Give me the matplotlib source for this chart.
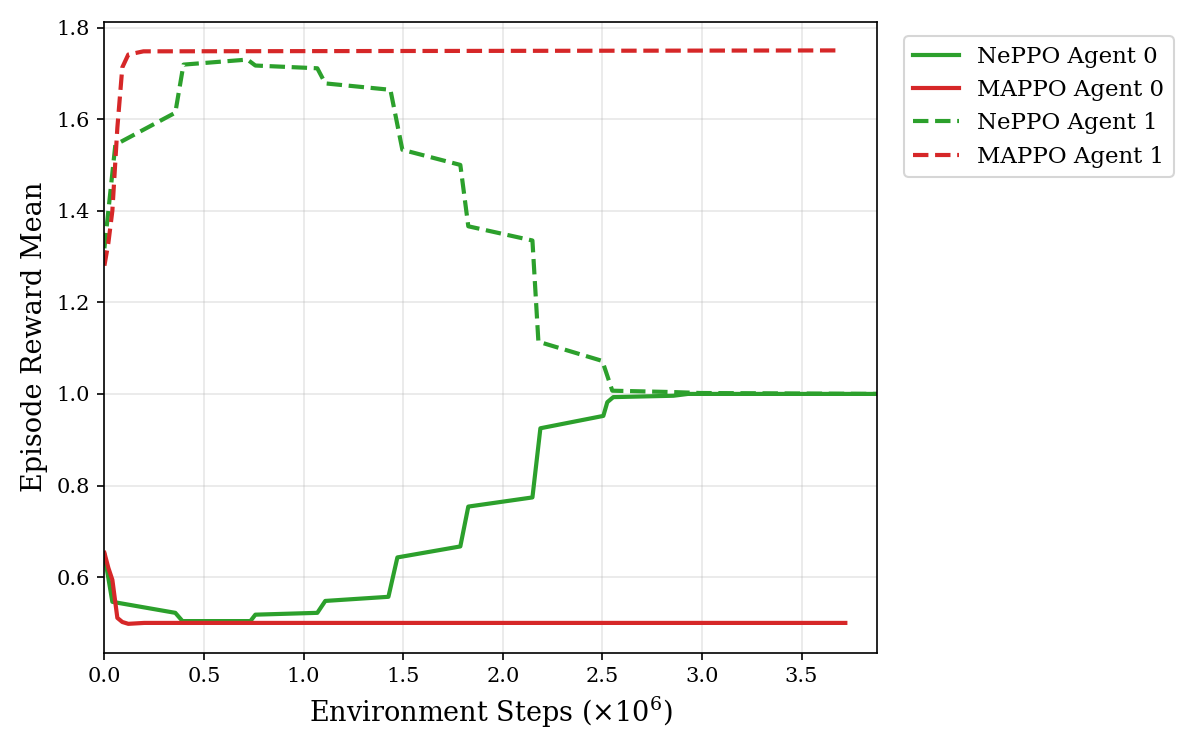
import matplotlib
matplotlib.use("Agg")
import matplotlib.pyplot as plt
import numpy as np

plt.rcParams['font.family'] = 'DejaVu Serif'
plt.rcParams['mathtext.fontset'] = 'dejavuserif'

# environment steps (x1e6) and smoothed episode reward means
neppo0_x = [0.0, 0.04, 0.356, 0.392, 0.733, 0.758, 1.069, 1.109, 1.426, 1.471,
            1.787, 1.827, 2.149, 2.189, 2.505, 2.525, 2.555, 2.857, 2.93, 3.88]
neppo0_y = [0.649, 0.546, 0.522, 0.504, 0.504, 0.518, 0.522, 0.548, 0.557, 0.643,
            0.667, 0.754, 0.774, 0.925, 0.952, 0.982, 0.993, 0.996, 1.0, 1.0]

mappo0_x = [0.0, 0.02, 0.04, 0.065, 0.09, 0.12, 0.2, 3.72]
mappo0_y = [0.653, 0.62, 0.594, 0.511, 0.502, 0.498, 0.5, 0.5]

neppo1_x = [0.0, 0.055, 0.356, 0.397, 0.718, 0.758, 1.069, 1.109, 1.436, 1.496,
            1.787, 1.827, 2.149, 2.179, 2.5, 2.55, 2.857, 2.99, 3.88]
neppo1_y = [1.318, 1.544, 1.614, 1.719, 1.730, 1.717, 1.711, 1.678, 1.664, 1.533,
            1.5, 1.366, 1.335, 1.114, 1.072, 1.007, 1.004, 1.002, 1.0]

mappo1_x = [0.0, 0.02, 0.04, 0.065, 0.09, 0.12, 0.196, 3.70]
mappo1_y = [1.28, 1.33, 1.40, 1.581, 1.713, 1.741, 1.748, 1.75]

green = '#2ca02c'
red = '#d62728'

fig, ax = plt.subplots(figsize=(8, 5), dpi=150)

ax.plot(neppo0_x, neppo0_y, color=green, lw=2, label='NePPO Agent 0')
ax.plot(mappo0_x, mappo0_y, color=red, lw=2, label='MAPPO Agent 0')
ax.plot(neppo1_x, neppo1_y, color=green, lw=2, ls='--', label='NePPO Agent 1')
ax.plot(mappo1_x, mappo1_y, color=red, lw=2, ls='--', label='MAPPO Agent 1')

ax.set_xlim(0, max(neppo0_x))
ax.set_xticks(np.arange(0, 4.0, 0.5))
ax.tick_params(labelsize=10)

ax.grid(True, alpha=0.3)
ax.set_xlabel(r'Environment Steps ($\times 10^6$)', fontsize=13)
ax.set_ylabel('Episode Reward Mean', fontsize=13)

ax.legend(loc='upper left', bbox_to_anchor=(1.02, 0.995), fontsize=11)

fig.subplots_adjust(left=0.087, right=0.731, top=0.971, bottom=0.13)
fig.savefig('out.png', dpi=150)
